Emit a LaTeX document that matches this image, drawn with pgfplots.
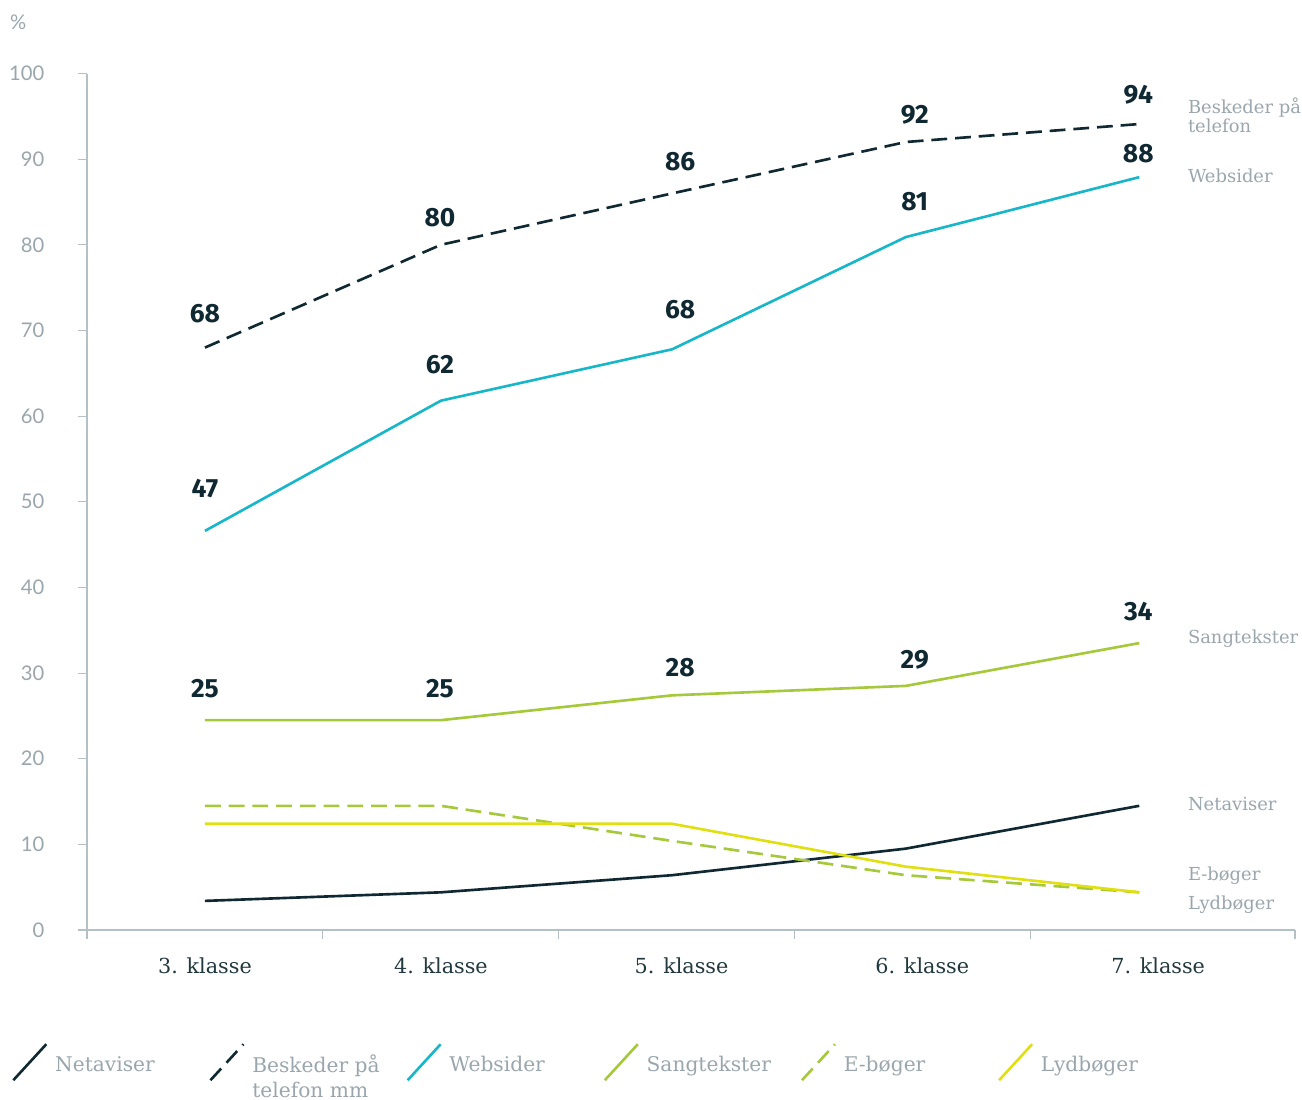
\documentclass[border=0pt]{standalone}
\usepackage{fontspec}
\setmainfont{DejaVu Serif}
\newfontfamily\numfont{Fira Sans}
\newfontfamily\tickfont{Lato}
\usepackage{pgfplots}
\usepackage{pgfplotstable}
\pgfplotsset{compat=1.18}

\definecolor{navy}{HTML}{0F2832}
\definecolor{teal}{HTML}{17B6C9}
\definecolor{lgreen}{HTML}{A5C93A}
\definecolor{lyellow}{HTML}{E0DF12}
\definecolor{greytxt}{HTML}{9AA6AD}
\definecolor{axisgrey}{HTML}{B5C0C6}
\definecolor{darktxt}{HTML}{22383F}

% x, value, label, label offset in px (dx, dy)
\pgfplotstableread{
x     y     lab dx dy
0.5   68    68  0  34
1.5   80    80  -1 27
2.48  86    86  8  32
3.47  92    92  9  27
4.46  94.1  94  -1 29
}\beskeder
\pgfplotstableread{
x     y     lab dx dy
0.5   46.6  47  0  42
1.5   61.8  62  -1 36
2.48  67.8  68  8  40
3.47  80.9  81  9  35
4.46  87.9  88  -1 24
}\websider
\pgfplotstableread{
x     y     lab dx dy
0.5   24.5  25  0  32
1.5   24.5  25  -1 32
2.48  27.4  28  8  28
3.47  28.5  29  9  26
4.46  33.5  34  -1 31
}\sangtekster

\pgfplotsset{
  vallabels/.style={
    point meta=explicit symbolic, nodes near coords,
    visualization depends on={\thisrow{dx} \as \ldx},
    visualization depends on={\thisrow{dy} \as \ldy},
    nodes near coords style={font=\numfont\bfseries\fontsize{15}{16}\selectfont, color=navy,
        anchor=center, inner sep=0pt, xshift=\ldx*0.02cm, yshift=\ldy*0.02cm},
  }
}

\begin{document}
\begin{tikzpicture}
\path[use as bounding box] (-1.74cm,-3.38cm) rectangle (24.30cm,18.6cm);
\begin{axis}[
    at={(0,0)}, anchor=south west,
    scale only axis,
    width=24.16cm, height=17.13cm,
    xmin=0, xmax=5.12, ymin=0, ymax=100,
    axis x line=bottom, axis y line=left,
    axis line style={draw=axisgrey, line width=0.6pt, -},
    xtick={0.5,1.5,2.52,3.54,4.54},
    xticklabels={3. klasse, 4. klasse, 5. klasse, 6. klasse, 7. klasse},
    major x tick style={draw=none},
    xticklabel style={font=\fontsize{11.8}{13}\selectfont, color=darktxt, anchor=base, yshift=-0.7cm},
    extra x ticks={0,1,2,3,4,5.12},
    extra x tick labels={},
    extra x tick style={tick align=outside, major tick length=0.17cm,
        major x tick style={draw=axisgrey, line width=0.6pt}},
    ytick={0,10,...,100},
    tick align=outside,
    major tick length=0.17cm,
    y tick style={draw=axisgrey, line width=0.6pt},
    /pgf/number format/assume math mode=true,
    yticklabel style={font=\tickfont\fontsize{11.5}{13}\selectfont, color=greytxt, anchor=east, xshift=-0.56cm},
    clip=false,
    every axis plot/.append style={line width=1.5pt},
    legend columns=6,
    legend cell align=left,
    legend style={draw=none, fill=none, inner sep=0pt, outer sep=0pt,
        at={(axis description cs:-0.0621,-0.1318)}, anchor=north west,
        font=\fontsize{11.5}{13.8}\selectfont, text=greytxt,
        /tikz/every odd column/.append style={column sep=0.08cm},
        /tikz/every even column/.append style={column sep=0.21cm}},
    legend image code/.code={\draw[#1, line width=1.5pt] (0cm,-0.30cm) -- (0.66cm,0.42cm);},
]

\addplot[navy] coordinates {(0.5,3.4) (1.5,4.4) (2.48,6.4) (3.47,9.5) (4.46,14.5)};
\addlegendentry{\makebox[2.8cm][l]{Netaviser}}

\addplot[navy, dash pattern=on 9pt off 4.5pt, vallabels]
    table[x=x, y=y, meta=lab] {\beskeder};
\addlegendentry{\parbox[t]{2.8cm}{Beskeder på\\telefon mm}}

\addplot[teal, vallabels]
    table[x=x, y=y, meta=lab] {\websider};
\addlegendentry{\makebox[2.8cm][l]{Websider}}

\addplot[lgreen, vallabels]
    table[x=x, y=y, meta=lab] {\sangtekster};
\addlegendentry{\makebox[2.8cm][l]{Sangtekster}}

\addplot[lgreen, dash pattern=on 9pt off 4.5pt]
    coordinates {(0.5,14.5) (1.5,14.5) (2.48,10.4) (3.47,6.4) (4.46,4.4)};
\addlegendentry{\makebox[2.8cm][l]{E-bøger}}

\addplot[lyellow]
    coordinates {(0.5,12.4) (1.5,12.4) (2.48,12.4) (3.47,7.4) (4.46,4.4)};
\addlegendentry{\makebox[2.8cm][l]{Lydbøger}}

\begin{scope}[every node/.style={font=\fontsize{10.2}{10.5}\selectfont, color=greytxt, anchor=west, inner sep=0pt, align=left}]
\node at (axis cs:4.665,95.1) {Beskeder på\\telefon};
\node at (axis cs:4.665,88.0) {Websider};
\node at (axis cs:4.665,34.0) {Sangtekster};
\node at (axis cs:4.665,14.7) {Netaviser};
\node at (axis cs:4.665,6.3) {E-bøger};
\node at (axis cs:4.665,3.0) {Lydbøger};
\end{scope}
\node[font=\tickfont\fontsize{11.5}{13}\selectfont, color=greytxt, anchor=center] at (axis cs:-0.292,106) {\%};
\end{axis}
\end{tikzpicture}
\end{document}
